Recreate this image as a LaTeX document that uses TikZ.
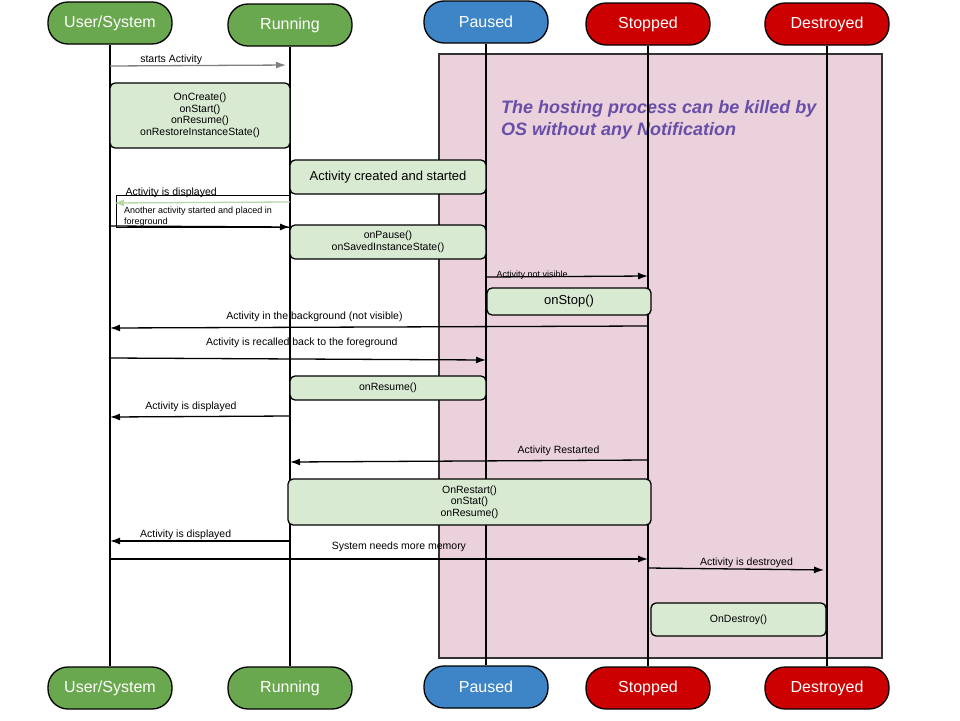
\documentclass[tikz,border=0pt]{standalone}
\usepackage{fontspec}
\setmainfont{Liberation Sans}
\usetikzlibrary{arrows.meta}

\definecolor{laneGreen}{HTML}{6AA84F}
\definecolor{laneBlue}{HTML}{3D85C6}
\definecolor{laneRed}{HTML}{CC0000}
\definecolor{callGreen}{HTML}{D9EAD3}
\definecolor{killPink}{HTML}{EAD1DC}
\definecolor{notePurple}{HTML}{674EA7}
\definecolor{backGreen}{HTML}{B6D7A8}

\tikzset{
  lane/.style={draw=black, line width=1.3pt, rounded corners=20pt, minimum width=124pt, minimum height=42pt, text=white, font=\fontsize{16}{18}\selectfont},
  life/.style={line width=1.3pt},
  call/.style={draw=black, line width=1.3pt, fill=callGreen, rounded corners=5pt, align=center, inner sep=0pt, font=\fontsize{10.5}{11.5}\selectfont},
  msg/.style={-{Latex[length=10pt,width=7pt]}, line width=1.3pt},
  lbl/.style={font=\fontsize{10.5}{12}\selectfont, inner sep=0pt, text=black}
}

\begin{document}
\begin{tikzpicture}[x=1pt,y=-1pt]
\useasboundingbox (0,0) rectangle (960,720);
% region where the process may be killed
\draw[fill=killPink, draw=black!80, line width=1.3pt] (439,54) rectangle (882,658);
\node[anchor=north west, inner sep=0pt, align=left, text=notePurple, font=\fontsize{18}{22}\selectfont\bfseries\itshape] (killNote) at (501,100) {The hosting process can be killed by\\OS without any Notification};

% lanes
\node[lane, fill=laneGreen] (usrT) at (110,23) {User/System};
\node[lane, fill=laneGreen] (runT) at (290,25) {Running};
\node[lane, fill=laneBlue] (pauT) at (486,22) {Paused};
\node[lane, fill=laneRed] (stpT) at (648,24) {Stopped};
\node[lane, fill=laneRed] (dstT) at (827,24) {Destroyed};
\node[lane, fill=laneGreen] (usrB) at (110,688) {User/System};
\node[lane, fill=laneGreen] (runB) at (290,688) {Running};
\node[lane, fill=laneBlue] (pauB) at (486,687) {Paused};
\node[lane, fill=laneRed] (stpB) at (648,688) {Stopped};
\node[lane, fill=laneRed] (dstB) at (827,688) {Destroyed};
\draw[life] (usrT) -- (usrB);
\draw[life] (runT) -- (runB);
\draw[life] (pauT) -- (pauB);
\draw[life] (stpT) -- (stpB);
\draw[life] (dstT) -- (dstB);

% callbacks
\node[call, minimum width=180pt, minimum height=65pt] (onCreate) at (200,115.5) {OnCreate()\\onStart()\\onResume()\\onRestoreInstanceState()};
\node[call, minimum width=196pt, minimum height=34pt, font=\fontsize{13}{15}\selectfont] (created) at (388,177) {Activity created and started};
\node[call, minimum width=196pt, minimum height=34pt] (onPause) at (388,242) {onPause()\\onSavedInstanceState()};
\node[call, minimum width=164pt, minimum height=27pt, font=\fontsize{13}{15}\selectfont] (onStop) at (569,301.5) {onStop()};
\node[call, minimum width=196pt, minimum height=24pt] (onResume) at (388,388) {onResume()};
\node[call, minimum width=363pt, minimum height=46pt] (onRestart) at (469.5,502) {OnRestart()\\onStat()\\onResume()};
\node[call, minimum width=175pt, minimum height=33pt] (onDestroy) at (738.5,619.5) {OnDestroy()};

% another activity in front
\node[draw, line width=0.8pt, anchor=north west, minimum width=174pt, minimum height=32pt, inner sep=0pt] (infoBox) at (116,195) {};
\node[anchor=north west, inner sep=0pt, align=left, font=\fontsize{9}{11}\selectfont] (infoTxt) at (124,206.5) {Another activity started and placed in\\foreground};

% messages
\draw[msg, gray, shorten >=4pt] (usrT |- 0,66) -- (runT |- 0,65) node[lbl, above=0.8pt, pos=0.34] (startLbl) {starts Activity};
\draw[msg, backGreen, shorten >=4pt] (runT |- 0,202) -- (usrT |- 0,203) node[lbl, above=4.3pt, pos=0.66] (shownLbl1) {Activity is displayed};
\draw[msg] (usrT |- 0,226) -- (runT |- 0,227);
\draw[msg] (pauT |- 0,277) -- (stpT |- 0,276) node[lbl, font=\fontsize{9}{11}\selectfont, anchor=base west, pos=0, xshift=10pt] (hiddenLbl) {Activity not visible};
\draw[msg] (stpT |- 0,326) -- (usrT |- 0,328) node[lbl, above=4.8pt, pos=0.62] (bgLbl) {Activity in the background (not visible)};
\draw[msg] (usrT |- 0,358) -- (pauT |- 0,360) node[lbl, above=10.8pt, pos=0.51] (recallLbl) {Activity is recalled back to the foreground};
\draw[msg] (runT |- 0,416) -- (usrT |- 0,417) node[lbl, above=3.8pt, pos=0.55] (shownLbl2) {Activity is displayed};
\draw[msg] (stpT |- 0,460) -- (runT |- 0,462) node[lbl, above=3.8pt, pos=0.25] (restartLbl) {Activity Restarted};
\draw[msg] (runT |- 0,541) -- (usrT |- 0,541) node[lbl, above=0.8pt, pos=0.58] (shownLbl3) {Activity is displayed};
\draw[msg] (usrT |- 0,559) -- (stpT |- 0,559) node[lbl, above=6.8pt, pos=0.537] (memLbl) {System needs more memory};
\draw[msg, shorten >=3pt] (stpT |- 0,568) -- (dstT |- 0,570) node[lbl, above=0.8pt, pos=0.55] (destroyLbl) {Activity is destroyed};
\end{tikzpicture}
\end{document}
